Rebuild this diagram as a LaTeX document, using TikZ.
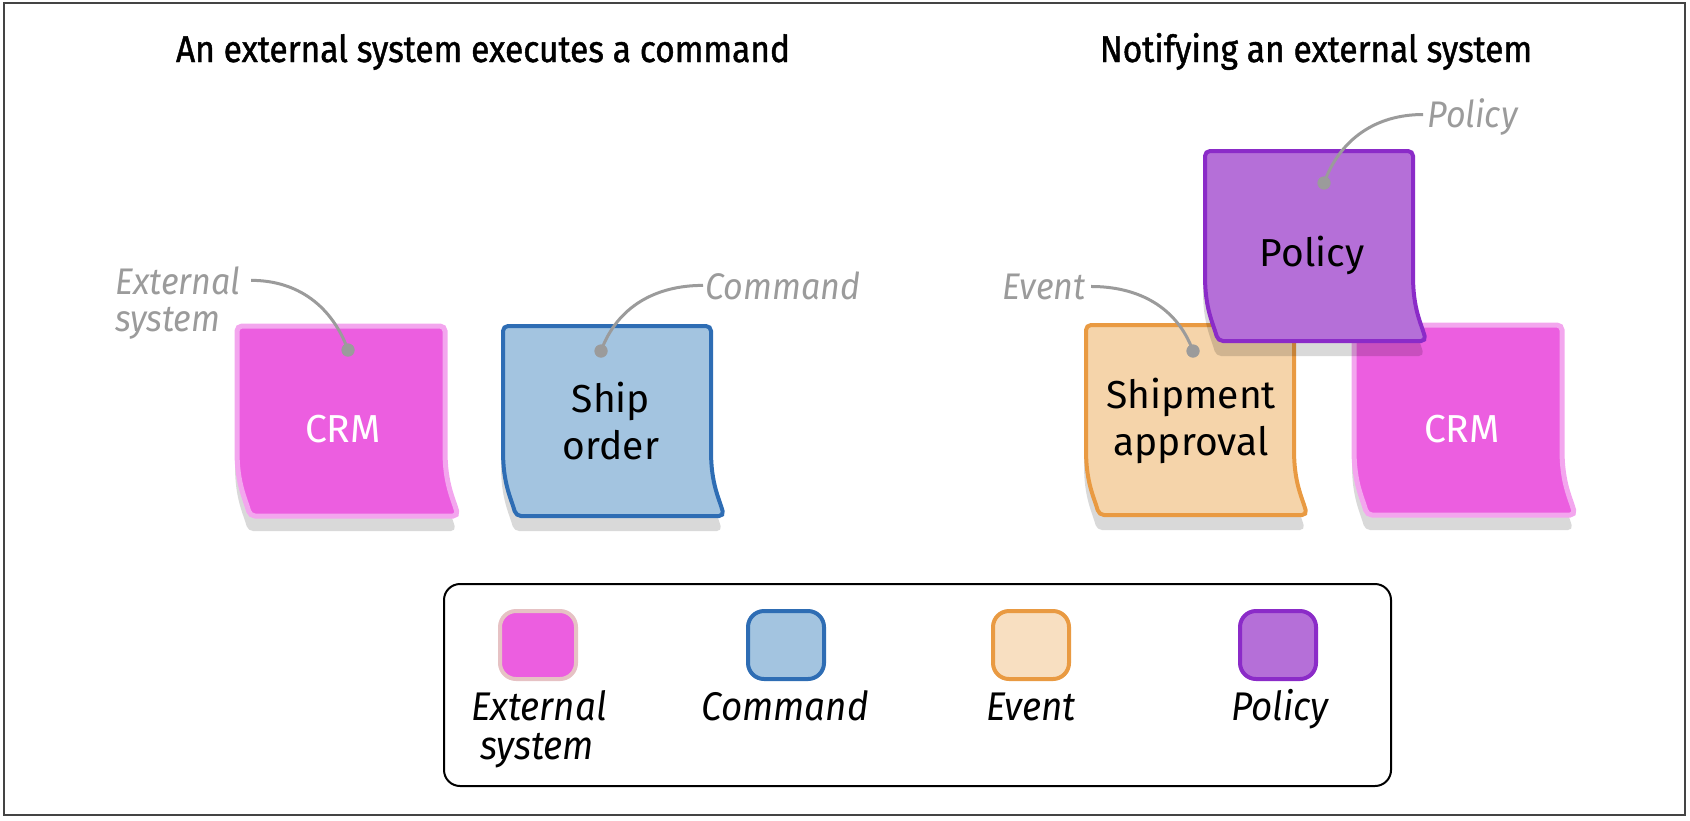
\documentclass[tikz,border=0pt]{standalone}
\usepackage{fontspec}
\setmainfont{Fira Sans}
\newfontfamily\titlefont{Fira Sans}[FakeStretch=0.9, FakeBold=1.2]
\newfontfamily\lblfont{Fira Sans}[FakeStretch=0.92]
\newfontfamily\handfont{Fira Sans}
\definecolor{extfill}{HTML}{EC5EE0}
\definecolor{extborder}{HTML}{F3A6EE}
\definecolor{legextborder}{HTML}{E6C2C4}
\definecolor{cmdfill}{HTML}{A3C4E0}
\definecolor{cmdborder}{HTML}{2E6DB4}
\definecolor{evfill}{HTML}{F5D4AA}
\definecolor{evborder}{HTML}{E99A42}
\definecolor{legevfill}{HTML}{F8DFC1}
\definecolor{polfill}{HTML}{B56FD8}
\definecolor{polborder}{HTML}{8B2BC8}
\definecolor{lblgray}{HTML}{9B9B9B}
\definecolor{framegray}{HTML}{444444}
\tikzset{
  pics/stickyshape/.style={code={
    \path[pic actions, rounded corners=2.5pt]
      (0,0) -- (208,0) -- (208,120) .. controls (208,158) and (216,172) .. (221,190)
      -- (13,190) .. controls (8,172) and (0,158) .. (0,120) -- cycle;
  }},
}
\begin{document}
\begin{tikzpicture}[x=0.5pt,y=-0.5pt,
  title/.style={font=\titlefont\fontsize{18.6}{22}\selectfont, anchor=base, inner sep=0},
  glabel/.style={font=\lblfont\itshape\fontsize{18.5}{22}\selectfont, text=lblgray, inner sep=0},
  leglabel/.style={font=\lblfont\itshape\fontsize{20}{24}\selectfont, text=black, inner sep=0, anchor=base},
  hand/.style={font=\handfont\fontsize{19.5}{23.5}\selectfont, align=center, inner sep=0},
  pin/.style={circle, fill=lblgray, inner sep=0, minimum size=6.5pt},
  conn/.style={draw=lblgray, line width=1.5pt},
  shade/.style={fill=black, fill opacity=0.15},
  legicon/.style={minimum width=38pt, minimum height=34pt, rounded corners=8pt, line width=2pt, draw, inner sep=0}
]
\useasboundingbox (0,0) rectangle (1690,820);
\draw[line width=1pt, draw=framegray] (4,3) rectangle (1685,815);

% titles
\node[title] (t1) at (483,62) {An external system executes a command};
\node[title] (t2) at (1316,62) {Notifying an external system};

% shadows
\pic[shade] at (235,341) {stickyshape};
\pic[shade] at (501,341) {stickyshape};
\pic[shade] at (1084,340) {stickyshape};
\pic[shade] at (1352,340) {stickyshape};

% stickies
\pic[fill=extfill, draw=extborder, line width=2.5pt] at (237,326) {stickyshape};
\pic[fill=cmdfill, draw=cmdborder, line width=2pt] at (503,326) {stickyshape};
\pic[fill=evfill, draw=evborder, line width=2pt] at (1086,325) {stickyshape};
\pic[fill=extfill, draw=extborder, line width=2.5pt] at (1354,325) {stickyshape};
\pic[shade] at (1203,166) {stickyshape};
\pic[fill=polfill, draw=polborder, line width=2pt] at (1205,151) {stickyshape};

% sticky texts
\node[hand, text=white] (crm1) at (343,429) {CRM};
\node[hand] (ship) at (611,421) {Ship\\order};
\node[hand] (shipapp) at (1191,421) {Shipment\\approval};
\node[hand, text=white] (crm2) at (1462,429) {CRM};
\node[hand] (pol) at (1312,255) {Policy};

% gray labels
\node[glabel, anchor=base west] (ext1) at (115,294) {External};
\node[glabel, anchor=base west] (ext2) at (115,331) {system};
\node[glabel, anchor=base west] (cmdlbl) at (705,299) {Command};
\node[glabel, anchor=base east] (evlbl) at (1086,299) {Event};
\node[glabel, anchor=base west] (pollbl) at (1427,127) {Policy};

% pins
\node[pin] (extpin) at (348,350) {};
\node[pin] (cmdpin) at (601,351) {};
\node[pin] (evpin) at (1193,351) {};
\node[pin] (polpin) at (1324,183) {};

\draw[conn] ([xshift=5pt]ext1.east) to[out=0,in=110] (extpin.center);
\draw[conn] ([xshift=-1pt]cmdlbl.west) to[out=180,in=70] (cmdpin.center);
\draw[conn] ([xshift=2.5pt]evlbl.east) to[out=0,in=110] (evpin.center);
\draw[conn] ([xshift=-2pt,yshift=1pt]pollbl.west) to[out=180,in=70] (polpin.center);
\node[pin] at (extpin) {};
\node[pin] at (cmdpin) {};
\node[pin] at (evpin) {};
\node[pin] at (polpin) {};

% legend
\node[draw, line width=1pt, rounded corners=8pt, minimum width=473.5pt, minimum height=101pt, inner sep=0] (legend) at (917.5,685) {};
\node[legicon, fill=extfill, draw=legextborder] (liext) at (538,645) {};
\node[legicon, fill=cmdfill, draw=cmdborder] (licmd) at (786,645) {};
\node[legicon, fill=legevfill, draw=evborder] (liev) at (1031,645) {};
\node[legicon, fill=polfill, draw=polborder] (lipol) at (1278,645) {};
\node[leglabel] (lext1) at (539,720) {External};
\node[leglabel] (lext2) at (537,759) {system};
\node[leglabel] (lcmd) at (785,720) {Command};
\node[leglabel] (lev) at (1031,720) {Event};
\node[leglabel] (lpol) at (1280,720) {Policy};
\end{tikzpicture}
\end{document}
